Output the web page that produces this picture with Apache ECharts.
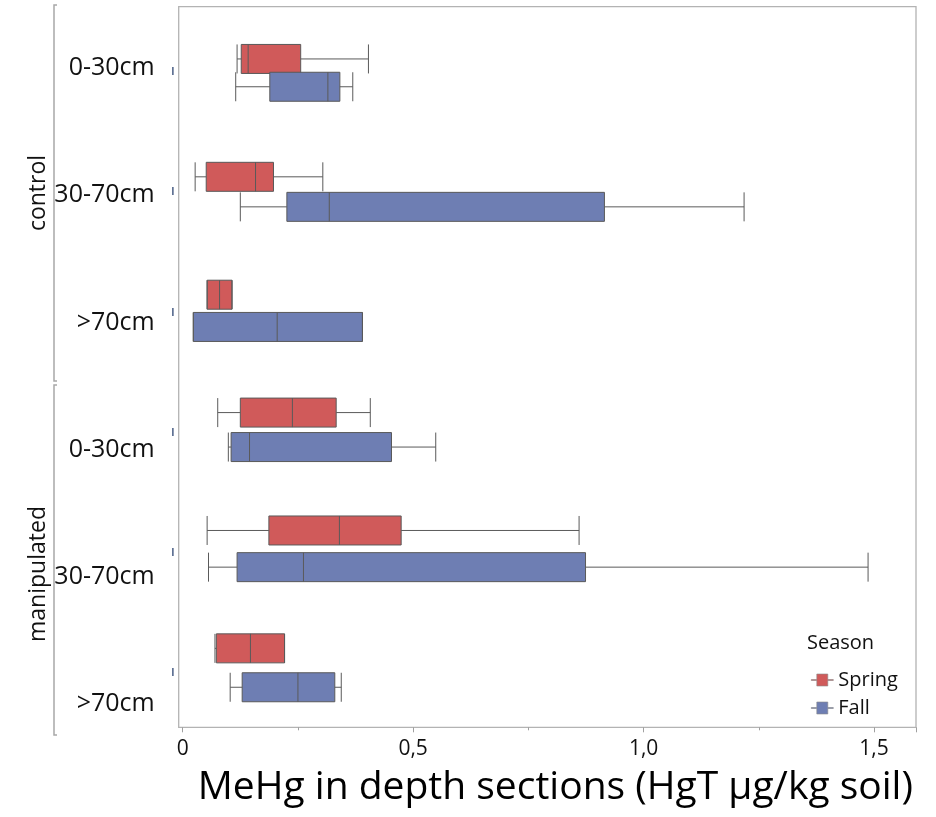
<!DOCTYPE html>
<html>
<head>
<meta charset="utf-8">
<title>MeHg in depth sections</title>
<script src="https://cdn.jsdelivr.net/npm/echarts@6/dist/echarts.min.js"></script>
<style>
  html, body { margin: 0; padding: 0; background: #fff; }
  #main { width: 936px; height: 817px; }
</style>
</head>
<body>
<div id="main"></div>
<script>
  // treatment groups and depth sections, top to bottom
  var groups = ['control', 'manipulated'];
  var depths = ['0-30cm', '30-70cm', '>70cm'];
  var seasons = ['Spring', 'Fall'];

  // box values: [min, Q1, median, Q3, max] per group/depth
  var springBox = [
    [0.118, 0.127, 0.142, 0.256, 0.403],
    [0.027, 0.051, 0.158, 0.197, 0.304],
    [0.053, 0.053, 0.080, 0.107, 0.107],
    [0.076, 0.125, 0.238, 0.333, 0.407],
    [0.053, 0.187, 0.340, 0.474, 0.860],
    [0.070, 0.073, 0.147, 0.221, 0.221]
  ];
  var fallBox = [
    [0.115, 0.189, 0.315, 0.341, 0.369],
    [0.125, 0.226, 0.318, 0.915, 1.218],
    [0.023, 0.023, 0.205, 0.390, 0.390],
    [0.099, 0.105, 0.145, 0.453, 0.549],
    [0.056, 0.118, 0.262, 0.874, 1.487],
    [0.103, 0.129, 0.250, 0.330, 0.344]
  ];

  // x axis range / ticks
  var xMin = 0, xMax = 1.591, xStep = 0.5;

  var categories = [];
  groups.forEach(function (g) {
    depths.forEach(function (d) { categories.push(g + '|' + d); });
  });

  var FONT = '"Open Sans", "Noto Sans", sans-serif';
  var plotLeft = 182.7, plotW = 733.3, plotTop = 6.7, plotH = 720.6;
  var colors = ['#d05a5a', '#6e7eb3'];

  var myChart = echarts.init(document.getElementById('main'));

  function hiddenValueX(gi) {
    return { gridIndex: gi, type: 'value', min: xMin, max: xMax, show: false };
  }
  function hiddenCatY(gi) {
    return { gridIndex: gi, type: 'category', data: categories, inverse: true, show: false };
  }

  var option = {
    animation: false,
    textStyle: { fontFamily: FONT },
    title: {
      text: 'Season',
      left: 807, top: 633, padding: 0,
      textStyle: { fontSize: 20, fontWeight: 'normal', color: '#111', fontFamily: FONT }
    },
    legend: {
      data: seasons.map(function (s, i) {
        return { name: s, itemStyle: { color: colors[i], borderColor: '#8a8a8a', borderWidth: 0.6 } };
      }),
      orient: 'vertical',
      left: 806, top: 665,
      itemWidth: 22, itemHeight: 12, itemGap: 8,
      icon: 'path://M0,5.5H5.5V0H16.5V5.5H22V6.5H16.5V12H5.5V6.5H0Z',
      textStyle: { fontSize: 20, color: '#111', fontFamily: FONT }
    },
    grid: [
      // frame
      { left: 178.7, top: plotTop, width: 737.3, height: plotH, show: true,
        borderColor: '#b3b3b3', borderWidth: 1.3, backgroundColor: 'transparent' },
      // x axis
      { left: plotLeft, top: plotTop, width: plotW, height: plotH },
      // spring boxes
      { left: plotLeft, top: plotTop - 20, width: plotW, height: plotH },
      // fall boxes
      { left: plotLeft, top: plotTop + 20, width: plotW, height: plotH },
      // y tick marks
      { left: 173.5, top: 11, width: plotW, height: plotH },
      // y labels
      { left: plotLeft, top: 4.4, width: plotW, height: 763.2 }
    ],
    xAxis: [
      { gridIndex: 0, type: 'value', show: false },
      {
        gridIndex: 1, type: 'value', min: xMin, max: xMax, interval: xStep,
        axisLine: { show: false },
        axisTick: { show: true, length: 5, lineStyle: { color: '#a0a0a0' } },
        minorTick: { show: true, splitNumber: 2, length: 3, lineStyle: { color: '#a0a0a0' } },
        splitLine: { show: false },
        axisLabel: {
          margin: 11, fontSize: 21, color: '#111', fontFamily: FONT, showMaxLabel: false,
          formatter: function (v) { return v === 0 ? '0' : v.toFixed(1).replace('.', ','); }
        },
        name: 'MeHg in depth sections (HgT \u00b5g/kg soil)',
        nameLocation: 'middle',
        nameGap: 41,
        nameTextStyle: { fontSize: 39, color: '#000', fontFamily: FONT, padding: [0, 0, 0, 12] }
      },
      hiddenValueX(2),
      hiddenValueX(3),
      hiddenValueX(4),
      hiddenValueX(5)
    ],
    yAxis: [
      { gridIndex: 0, type: 'value', show: false },
      { gridIndex: 1, type: 'value', show: false },
      hiddenCatY(2),
      hiddenCatY(3),
      {
        gridIndex: 4, type: 'category', data: categories, inverse: true,
        axisLine: { show: false },
        axisTick: { show: true, alignWithLabel: true, length: 1.2, lineStyle: { color: '#1f3868', width: 8 } },
        axisLabel: { show: false }
      },
      {
        gridIndex: 5, type: 'category', data: categories, inverse: true,
        axisLine: { show: false },
        axisTick: { show: false },
        axisLabel: {
          margin: 28, fontSize: 25, color: '#111', fontFamily: FONT,
          formatter: function (v) { return v.split('|')[1]; }
        }
      }
    ],
    graphic: [
      { type: 'polyline', shape: { points: [[57, 5], [54, 5], [54, 381], [57, 381]] },
        style: { stroke: '#a8a8a8', lineWidth: 1.5, fill: null } },
      { type: 'polyline', shape: { points: [[57, 385], [54, 385], [54, 735], [57, 735]] },
        style: { stroke: '#a8a8a8', lineWidth: 1.5, fill: null } },
      { type: 'text', x: 38, y: 193, rotation: Math.PI / 2,
        style: { text: groups[0], font: '23px ' + FONT, fill: '#111', align: 'center', verticalAlign: 'middle' } },
      { type: 'text', x: 38, y: 574, rotation: Math.PI / 2,
        style: { text: groups[1], font: '23px ' + FONT, fill: '#111', align: 'center', verticalAlign: 'middle' } }
    ],
    series: [
      {
        name: seasons[0], type: 'boxplot', xAxisIndex: 2, yAxisIndex: 2,
        boxWidth: [29, 29],
        itemStyle: { color: colors[0], borderColor: '#5a5a5a', borderWidth: 1 },
        data: springBox
      },
      {
        name: seasons[1], type: 'boxplot', xAxisIndex: 3, yAxisIndex: 3,
        boxWidth: [29, 29],
        itemStyle: { color: colors[1], borderColor: '#5a5a5a', borderWidth: 1 },
        data: fallBox
      }
    ]
  };

  myChart.setOption(option);
</script>
</body>
</html>
